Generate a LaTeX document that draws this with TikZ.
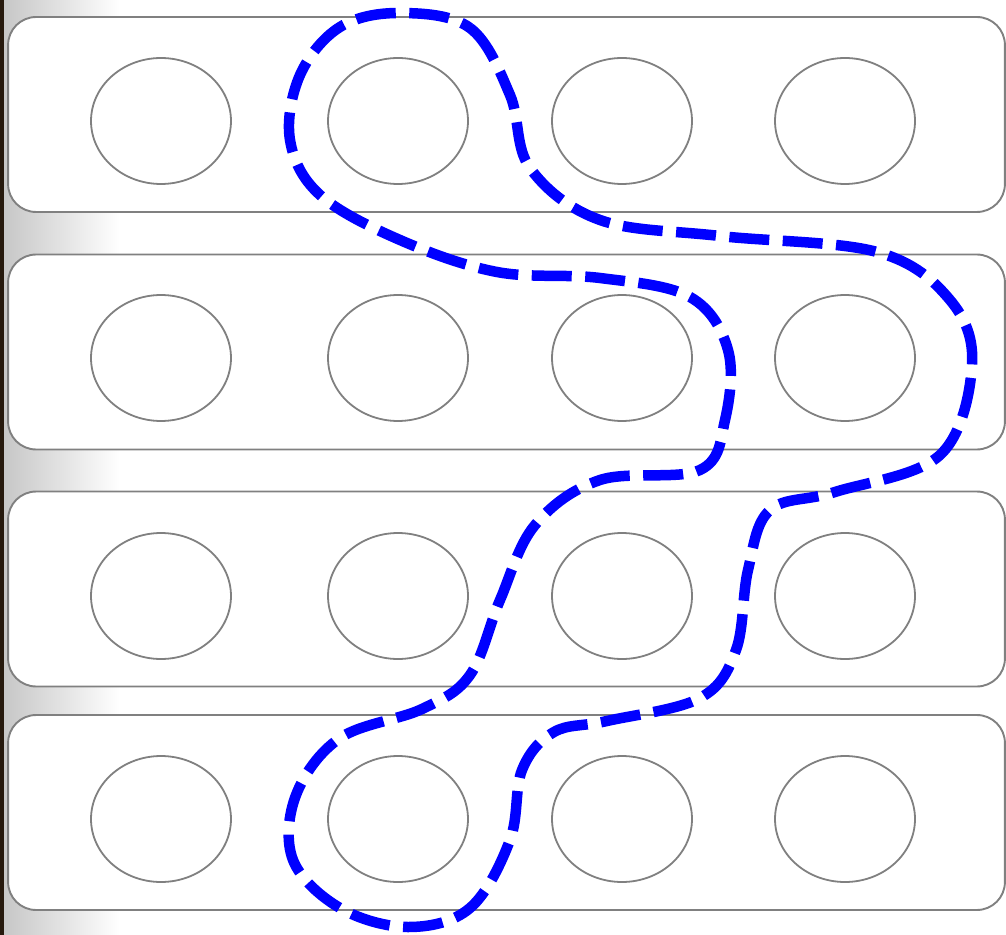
\documentclass[tikz,border=0pt]{standalone}
\usetikzlibrary{shapes.geometric}

\begin{document}
\begin{tikzpicture}[x=0.02cm,y=-0.02cm,
  rowbox/.style={draw=gray,line width=0.038cm,fill=white,rounded corners=0.56cm,
    minimum width=19.94cm,minimum height=3.9cm,inner sep=0pt,outer sep=0pt},
  cell/.style={draw=gray,line width=0.036cm,ellipse,minimum width=2.8cm,
    minimum height=2.52cm,inner sep=0pt}]
\useasboundingbox (0,0) rectangle (1006,935);
% left edge of the screenshot
\shade[left color=black!22,right color=white] (4,0) rectangle (120,935);
\fill[black!80!brown] (0,0) rectangle (4,935);
% four rows of cells
\foreach \r/\y/\cy in {1/114.5/121,2/352/358,3/589/596,4/812.5/819} {
  \node[rowbox] (row\r) at (506.5,\y) {};
  \foreach \c/\x in {1/161,2/398,3/622,4/845}
    \node[cell] (c\r\c) at (\x,\cy) {};
}
% dashed region
\draw[blue,line width=0.21cm,dash pattern=on 0.8cm off 0.27cm]
  plot[smooth cycle,tension=0.6] coordinates {
    (400,13) (470,28) (510,95) (530,168) (600,220) (720,236) (877,252)
    (950,300) (972,365) (940,455) (835,492) (770,510) (748,570) (736,650)
    (700,698) (607,721) (554,732) (522,770) (510,840) (470,908) (408,927)
    (340,908) (293,860) (296,795) (340,738) (422,709) (470,675) (500,600)
    (535,525) (600,480) (700,470) (725,420) (728,350) (690,297) (600,278)
    (497,272) (400,240) (320,195) (290,140) (300,75) (340,27)};
\end{tikzpicture}
\end{document}
